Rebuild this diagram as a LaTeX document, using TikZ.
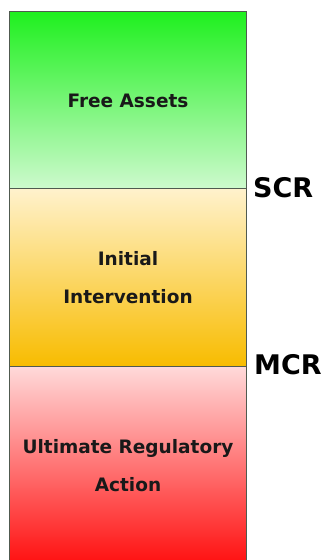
\documentclass[tikz,border=0pt]{standalone}
\usepackage{fontspec}
\setmainfont{DejaVu Sans}
\definecolor{gtop}{RGB}{30,240,30}
\definecolor{gbot}{RGB}{205,250,205}
\definecolor{ytop}{RGB}{255,242,205}
\definecolor{ybot}{RGB}{248,188,0}
\definecolor{rtop}{RGB}{255,218,218}
\definecolor{rbot}{RGB}{255,20,20}
\definecolor{edge}{RGB}{80,90,80}
\begin{document}
\begin{tikzpicture}[x=1pt,y=-1pt,
  band/.style={draw=edge, line width=0.9pt, minimum width=237pt, inner sep=0pt, outer sep=0pt, anchor=north west},
  lbl/.style={font=\bfseries\fontsize{18.5}{38}\selectfont, align=center, text=black!90},
  lvl/.style={font=\bfseries\fontsize{27}{30}\selectfont, anchor=west, inner sep=0pt}]
\useasboundingbox (0,0) rectangle (326,560);
\node[band, minimum height=177pt, top color=gtop, bottom color=gbot] (free) at (9,11) {};
\node[band, minimum height=178pt, top color=ytop, bottom color=ybot] (init) at (9,188) {};
\node[band, minimum height=194pt, top color=rtop, bottom color=rbot] (ult) at (9,366) {};
\node[lbl] (t1) at (128,101) {Free Assets};
\node[lbl] (t2) at (128,278) {Initial\\Intervention};
\node[lbl] (t3) at (128,466) {Ultimate Regulatory\\Action};
\node[lvl] (scr) at (253,188) {SCR};
\node[lvl] (mcr) at (254,365) {MCR};
\end{tikzpicture}
\end{document}
